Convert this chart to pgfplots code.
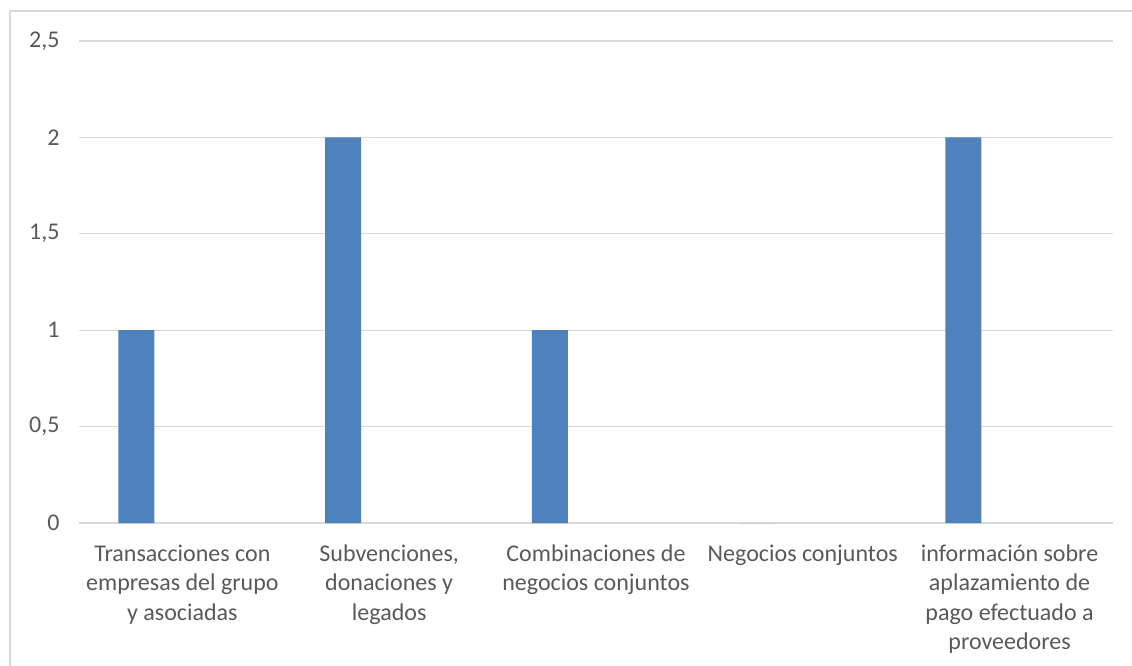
\documentclass[border=0pt]{standalone}
\usepackage{fontspec}
\setmainfont{Carlito}
\usepackage{pgfplots}
\pgfplotsset{compat=1.18}
\definecolor{barblue}{HTML}{4F81BD}
\definecolor{gridgray}{HTML}{D9D9D9}
\definecolor{txtgray}{HTML}{595959}
\begin{document}
\begin{tikzpicture}
\useasboundingbox (0pt,0pt) rectangle (1132pt,665pt);
% chart frame, cut off at right and bottom as in the reference
\draw[gridgray, line width=1.5pt] (10pt,-10pt) rectangle (1145pt,654pt);
\begin{axis}[
  at={(79pt,142pt)}, anchor=south west,
  scale only axis, width=1034pt, height=482pt,
  xmin=-0.5, xmax=4.5, ymin=0, ymax=2.5,
  ytick={0,0.5,1,1.5,2,2.5},
  xtick={0,1,2,3,4},
  xticklabels={
    {Transacciones con\\empresas del grupo\\y asociadas},
    {Subvenciones,\\donaciones y\\legados},
    {Combinaciones de\\negocios conjuntos},
    {Negocios conjuntos},
    {información sobre\\aplazamiento de\\pago efectuado a\\proveedores}},
  axis line style={draw=none},
  ymajorgrids, grid style={gridgray, line width=1.3pt},
  major tick length=0pt,
  /pgf/number format/assume math mode=true,
  /pgf/number format/use comma,
  tick label style={font=\fontsize{24}{29.5}\selectfont, text=txtgray},
  yticklabel style={xshift=-16pt},
  xticklabel style={align=center, yshift=-18pt},
  ybar, bar width=0.174, bar shift=-0.223,
]
\addplot[fill=barblue, draw=none] coordinates {(0,1) (1,2) (2,1) (3,0) (4,2)};
\end{axis}
\end{tikzpicture}
\end{document}
